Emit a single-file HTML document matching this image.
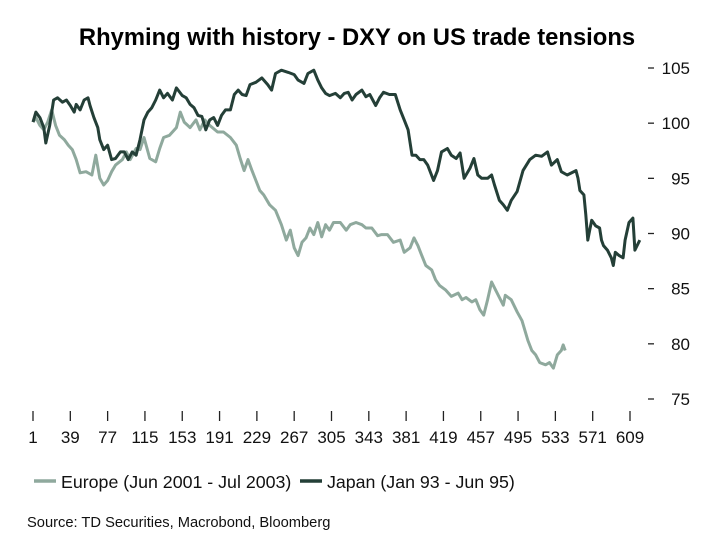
<!DOCTYPE html>
<html><head><meta charset="utf-8"><style>
body{margin:0;background:#fff;}
svg{display:block;font-family:"Liberation Sans",Arial,sans-serif;}
</style></head><body>
<svg id="chart" width="722" height="546" viewBox="0 0 722 546">
<text x="357" y="45" text-anchor="middle" font-size="23.8" font-weight="bold" fill="#000">Rhyming with history - DXY on US trade tensions</text>
<g id="yaxis"></g>
<g id="xaxis"></g>
<g id="series"></g>
<g>
<g><line x1="34" y1="481" x2="56" y2="481" stroke="#8fa99d" stroke-width="3.5"/><text x="61" y="488" font-size="17.8" fill="#111">Europe (Jun 2001 - Jul 2003)</text></g>
<g><line x1="300" y1="481" x2="322" y2="481" stroke="#243f37" stroke-width="3.5"/><text x="327" y="488" font-size="17.8" fill="#111">Japan (Jan 93 - Jun 95)</text></g>
</g>
<text x="27" y="527" font-size="14.7" fill="#111">Source: TD Securities, Macrobond, Bloomberg</text>
</svg>
<script>
const yTicks=[75,80,85,90,95,100,105];
const xTicks=[1,39,77,115,153,191,229,267,305,343,381,419,457,495,533,571,609];
const japanIdx=[1,4,8,12,14,18,22,26,31,35,39,43,45,49,53,57,59,63,67,69,73,77,81,85,90,94,98,102,106,110,114,118,122,126,130,134,138,143,147,153,157,161,165,169,173,177,181,185,189,193,197,202,206,210,214,218,222,228,234,240,244,248,254,261,267,271,277,281,287,291,295,299,303,309,314,318,322,326,330,336,340,344,350,354,358,364,370,375,379,383,387,391,395,399,403,409,413,417,423,427,432,436,440,446,450,454,458,464,468,471,476,480,484,488,494,500,507,513,519,525,529,535,539,545,554,556,558,562,564,566,568,570,574,578,580,582,586,590,592,594,598,602,604,608,612,614,619];
const japanVal=[100.1,101.0,100.5,99.6,98.2,99.8,102.1,102.3,101.9,102.1,101.6,101.0,101.7,101.2,102.1,102.3,101.6,100.5,99.6,98.5,97.6,98.0,96.7,96.8,97.4,97.4,96.7,97.4,97.1,98.5,100.3,101.0,101.4,102.1,103.0,102.3,102.7,102.1,103.2,102.5,102.3,101.7,101.4,100.7,100.6,99.4,100.3,100.5,99.8,100.7,101.2,101.2,102.6,103.0,102.6,102.5,103.5,103.7,104.1,103.5,103.0,104.5,104.8,104.6,104.4,103.9,103.6,104.5,104.8,103.9,103.2,102.7,102.5,102.7,102.3,102.7,102.8,102.1,102.6,103.0,102.4,102.6,101.6,102.3,102.8,102.6,102.6,101.2,100.3,99.4,97.1,97.1,96.7,96.7,96.2,94.8,95.7,97.4,97.7,97.1,96.8,97.3,95.0,95.9,96.8,95.3,95.0,95.0,95.3,94.4,93.0,92.6,92.1,93.0,93.8,95.7,96.7,97.1,97.0,97.4,96.2,96.7,95.6,95.3,95.7,95.0,93.9,93.5,91.7,89.4,90.3,91.2,90.7,90.5,89.4,88.9,88.5,87.8,87.1,88.3,88.0,87.8,89.4,91.0,91.4,88.5,89.4];
const europeIdx=[1,4,8,12,16,20,24,28,33,37,41,45,49,55,61,65,69,73,77,81,85,92,96,100,106,110,114,120,126,130,134,140,147,151,155,161,167,171,176,181,189,195,202,208,212,216,220,224,228,232,236,242,248,254,259,263,267,271,275,279,283,287,291,295,299,303,307,314,320,324,330,336,340,346,352,356,362,368,375,379,385,389,393,397,401,407,411,415,421,427,434,438,442,448,452,456,460,464,468,472,476,480,482,488,494,499,505,509,513,517,523,527,531,535,539,541,543];
const europeVal=[100.1,100.5,99.8,99.4,100.1,101.2,99.8,98.9,98.5,98.0,97.6,96.7,95.5,95.6,95.3,97.1,95.0,94.4,94.8,95.6,96.2,96.7,97.4,96.7,97.7,97.6,98.7,96.8,96.5,97.7,98.7,98.9,99.6,101.0,100.1,99.6,100.3,99.4,100.3,99.8,99.2,99.2,98.7,98.0,96.8,95.7,96.7,95.7,94.8,93.9,93.5,92.6,92.1,90.8,89.4,90.3,88.7,88.0,89.2,89.6,90.5,89.9,91.0,89.7,90.8,90.3,91.0,91.0,90.3,90.8,91.0,90.8,90.5,90.5,89.8,89.9,89.9,89.2,89.4,88.3,88.7,89.6,88.9,88.0,87.1,86.7,85.8,85.3,84.9,84.3,84.6,84.0,84.2,83.8,84.0,83.1,82.6,84.0,85.6,84.9,84.2,83.5,84.4,84.0,82.9,82.1,80.3,79.4,79.0,78.3,78.1,78.3,77.8,79.0,79.4,79.9,79.4];

const NS='http://www.w3.org/2000/svg';
const X0=33,X1=630,I0=1,I1=609;
const Y0=399,Y1=68,V0=75,V1=105;
function xs(i){return X0+(i-I0)*(X1-X0)/(I1-I0);}
function ys(v){return Y0+(v-V0)*(Y1-Y0)/(V1-V0);}
function mk(tag,attrs,parent){const e=document.createElementNS(NS,tag);for(const k in attrs)e.setAttribute(k,attrs[k]);parent.appendChild(e);return e;}

const ya=document.getElementById('yaxis');
yTicks.forEach(v=>{
  const g=mk('g',{},ya);
  
  
  mk('line',{x1:648,x2:654,y1:ys(v),y2:ys(v),stroke:'#222','stroke-width':1.3},g);
  const t=mk('text',{x:690,y:ys(v)+6,'text-anchor':'end','font-size':17,fill:'#111'},g);
  t.textContent=v;
});
const xa=document.getElementById('xaxis');
xTicks.forEach(i=>{
  const g=mk('g',{},xa);
  
  
  mk('line',{x1:xs(i),x2:xs(i),y1:411,y2:421,stroke:'#222','stroke-width':1.3},g);
  const t=mk('text',{x:xs(i),y:443,'text-anchor':'middle','font-size':17,fill:'#111'},g);
  t.textContent=i;
});
const sg=document.getElementById('series');
function line(idx,val,color,name){
  const d=idx.map((i,k)=>(k?'L':'M')+xs(i).toFixed(1)+','+ys(val[k]).toFixed(1)).join('');
  const p=mk('path',{d:d,fill:'none',stroke:color,'stroke-width':3,'stroke-linejoin':'round'},sg);
  
  
}
line(europeIdx,europeVal,'#8fa99d','europe-line');
line(japanIdx,japanVal,'#243f37','japan-line');
</script>
</body></html>
